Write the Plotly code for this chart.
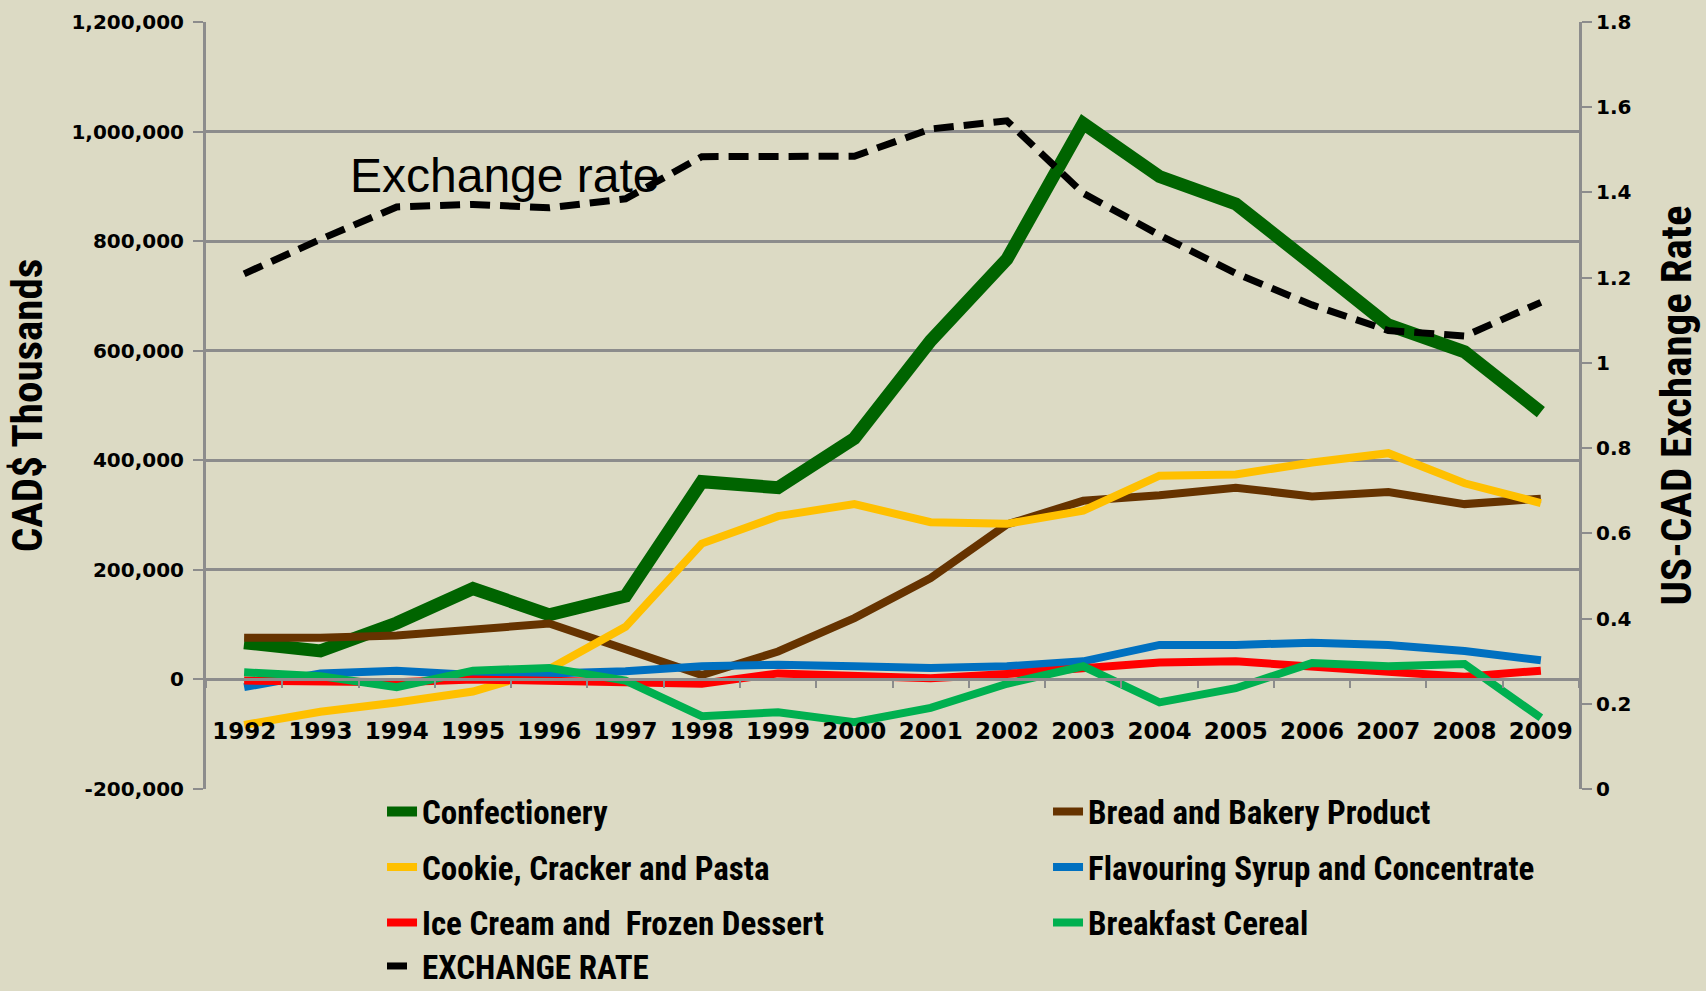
import plotly.graph_objects as go

years = ["1992", "1993", "1994", "1995", "1996", "1997", "1998", "1999", "2000",
         "2001", "2002", "2003", "2004", "2005", "2006", "2007", "2008", "2009"]

confectionery = [67000, 52000, 103000, 166000, 118000, 152000, 361000, 350000, 440000,
                 618000, 767000, 1015000, 918000, 868000, 758000, 647000, 598000, 488000]
bread = [76000, 76000, 80000, 92000, 102000, 55000, 8000, 51000, 112000,
         185000, 283000, 326000, 336000, 350000, 334000, 342000, 320000, 330000]
cookie = [-83000, -59000, -42000, -22000, 19000, 96000, 248000, 298000, 320000,
          287000, 284000, 308000, 372000, 374000, 396000, 413000, 358000, 322000]
flavouring = [-14000, 11000, 16000, 8000, 11000, 15000, 24000, 27000, 24000,
              21000, 24000, 33000, 63000, 63000, 67000, 63000, 52000, 35000]
ice_cream = [-2000, -2000, -5000, 0, -2000, -7000, -8000, 11000, 5000,
             2000, 10000, 20000, 31000, 33000, 22000, 14000, 5000, 16000]
cereal = [13000, 6000, -14000, 16000, 21000, -2000, -67000, -60000, -78000,
          -52000, -8000, 24000, -42000, -16000, 30000, 24000, 28000, -70000]
exchange = [1.209, 1.290, 1.366, 1.372, 1.364, 1.385, 1.484, 1.486, 1.485,
            1.549, 1.568, 1.398, 1.300, 1.210, 1.136, 1.076, 1.063, 1.142]

left_ticks = [-200000, 0, 200000, 400000, 600000, 800000, 1000000, 1200000]
left_labels = ["-200,000", "0", "200,000", "400,000", "600,000", "800,000", "1,000,000", "1,200,000"]
right_ticks = [0, 0.2, 0.4, 0.6, 0.8, 1.0, 1.2, 1.4, 1.6, 1.8]
right_labels = ["0", "0.2", "0.4", "0.6", "0.8", "1", "1.2", "1.4", "1.6", "1.8"]

# name, values, colour, width, legend row
series = [
    ("Confectionery", confectionery, "#006400", 13, "legend"),
    ("Bread and Bakery Product", bread, "#663300", 8, "legend"),
    ("Cookie, Cracker and Pasta", cookie, "#FFC000", 8, "legend2"),
    ("Flavouring Syrup and Concentrate", flavouring, "#0070C0", 8, "legend2"),
    ("Ice Cream and  Frozen Dessert", ice_cream, "#FF0000", 8, "legend3"),
    ("Breakfast Cereal", cereal, "#00B050", 8, "legend3"),
]

BG = "#DCDAC4"
GRID = "#8C8C8C"
NARROW = "Liberation Sans Narrow, Arial Narrow, Roboto Condensed, sans-serif"
TICKFONT = dict(family="DejaVu Sans, Verdana, sans-serif", size=20, color="black", weight="bold")
LEGFONT = dict(family=NARROW, size=33, color="black", weight="bold")

fig = go.Figure()
for name, vals, color, w, leg in series:
    fig.add_trace(go.Scatter(x=years, y=vals, name=name, mode="lines", legend=leg,
                             line=dict(color=color, width=w)))
fig.add_trace(go.Scatter(x=years, y=exchange, name="EXCHANGE RATE", mode="lines",
                         yaxis="y2", legend="legend4",
                         line=dict(color="black", width=7, dash="20px,10px")))

fig.add_annotation(x=3.42, y=920000, xref="x", yref="y", text="Exchange rate",
                   showarrow=False, font=dict(family="Liberation Sans, Arial, sans-serif",
                                              size=48, color="black"))


def legend_row(yc):
    return dict(orientation="h", x=0.1282, xanchor="left", y=yc, yanchor="middle",
                entrywidth=621, entrywidthmode="pixels", bgcolor="rgba(0,0,0,0)",
                font=LEGFONT, traceorder="normal")


fig.update_layout(
    width=1706, height=991,
    paper_bgcolor=BG, plot_bgcolor=BG,
    margin=dict(l=206, r=127, t=22, b=202, autoexpand=False),
    showlegend=True,
    legend=legend_row(-0.0295),
    legend2=legend_row(-0.1019),
    legend3=legend_row(-0.1742),
    legend4=legend_row(-0.2308),
    xaxis=dict(type="category", range=[-0.5, 17.5], anchor="free", position=1/7,
               showline=True, linecolor=GRID, linewidth=3, showgrid=False,
               ticks="outside", tickson="boundaries", ticklen=7, tickwidth=2, tickcolor=GRID,
               tickfont=dict(family="DejaVu Sans, Verdana, sans-serif", size=23,
                             color="black", weight="bold"),
               ticklabelstandoff=30, zeroline=False),
    yaxis=dict(range=[-200000, 1200000], tickvals=left_ticks, ticktext=left_labels,
               showgrid=True, gridcolor=GRID, gridwidth=3, zeroline=False,
               showline=True, linecolor=GRID, linewidth=3,
               ticks="outside", ticklen=10, tickwidth=2, tickcolor=GRID,
               tickfont=TICKFONT, ticklabelstandoff=5,
               title=dict(text="CAD$ Thousands", standoff=16,
                          font=dict(family=NARROW, size=43, color="black", weight="bold"))),
    yaxis2=dict(range=[0, 1.8], tickvals=right_ticks, ticktext=right_labels,
                overlaying="y", side="right", showgrid=False, zeroline=False,
                showline=True, linecolor=GRID, linewidth=3,
                ticks="outside", ticklen=10, tickwidth=2, tickcolor=GRID,
                tickfont=TICKFONT, ticklabelstandoff=0,
                title=dict(text="US-CAD Exchange Rate", standoff=31,
                           font=dict(family=NARROW, size=43, color="black", weight="bold"))),
)

fig.write_html("out.html", config={"displayModeBar": False},
               post_script="document.body.style.margin='0px';"
                           "document.body.style.backgroundColor='" + BG + "';")
